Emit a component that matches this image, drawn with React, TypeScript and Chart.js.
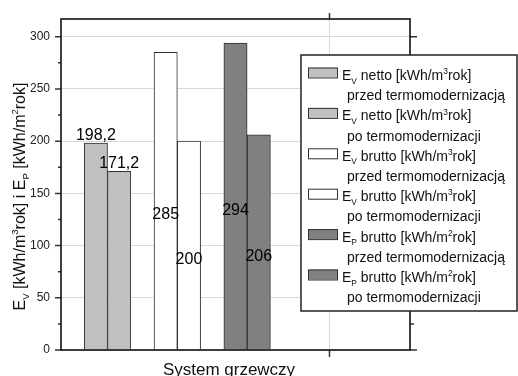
import React, { useEffect, useRef } from "react";
import { Chart, registerables } from "chart.js";

Chart.register(...registerables);

// ---------- data ----------
const categories = ["System grzewczy"];
const seriesNames = [
  "E_{V} netto [kWh/m^{3}rok]",
  "E_{V} netto [kWh/m^{3}rok]",
  "E_{V} brutto [kWh/m^{3}rok]",
  "E_{V} brutto [kWh/m^{3}rok]",
  "E_{P} brutto [kWh/m^{2}rok]",
  "E_{P} brutto [kWh/m^{2}rok]",
];
const seriesPhases = [
  "przed termomodernizacją",
  "po termomodernizacji",
  "przed termomodernizacją",
  "po termomodernizacji",
  "przed termomodernizacją",
  "po termomodernizacji",
];
const seriesValues = [198.2, 171.2, 285, 200, 294, 206];
const yTicks = [0, 50, 100, 150, 200, 250, 300];
const yTitle = "E_{V} [kWh/m^{3}rok] i E_{P} [kWh/m^{2}rok]";

// ---------- styles / layout ----------
const seriesColors = ["#c0c0c0", "#c0c0c0", "#ffffff", "#ffffff", "#808080", "#808080"];
const labelAbove = [true, true, false, false, false, false];
const FONT = "'Liberation Sans', Arial, sans-serif";
const Y_MAX = 317;
const X_SLOTS = 15;
const GRID_X = 11.5;

type Seg = { t: string; k?: "sub" | "sup" };

function parseRich(s: string): Seg[] {
  const out: Seg[] = [];
  const re = /([_^])\{([^}]*)\}/g;
  let last = 0;
  let m: RegExpExecArray | null;
  while ((m = re.exec(s))) {
    if (m.index > last) out.push({ t: s.slice(last, m.index) });
    out.push({ t: m[2], k: m[1] === "_" ? "sub" : "sup" });
    last = re.lastIndex;
  }
  if (last < s.length) out.push({ t: s.slice(last) });
  return out;
}

function segFont(seg: Seg, size: number) {
  return `${seg.k ? size * 0.6 : size}px ${FONT}`;
}

function richWidth(ctx: CanvasRenderingContext2D, segs: Seg[], size: number) {
  let w = 0;
  for (const s of segs) {
    ctx.font = segFont(s, size);
    w += ctx.measureText(s.t).width;
  }
  return w;
}

function drawRich(
  ctx: CanvasRenderingContext2D,
  text: string,
  x: number,
  y: number,
  size: number,
  align: "left" | "center"
) {
  const segs = parseRich(text);
  let cx = align === "center" ? x - richWidth(ctx, segs, size) / 2 : x;
  ctx.textAlign = "left";
  ctx.textBaseline = "alphabetic";
  for (const s of segs) {
    ctx.font = segFont(s, size);
    const dy = s.k === "sub" ? size * 0.25 : s.k === "sup" ? -size * 0.42 : 0;
    ctx.fillText(s.t, cx, y + dy);
    cx += ctx.measureText(s.t).width;
  }
}

const fmt = (v: number) => String(v).replace(".", ",");

const decorPlugin = {
  id: "decor",
  beforeDatasetsDraw(chart: any) {
    const { ctx, chartArea: a, scales } = chart;
    const gx = Math.round(scales.x.getPixelForValue(GRID_X)) + 0.5;
    ctx.save();
    ctx.strokeStyle = "#d9d9d9";
    ctx.lineWidth = 1;
    ctx.beginPath();
    ctx.moveTo(gx, a.top);
    ctx.lineTo(gx, a.bottom);
    ctx.stroke();
    ctx.restore();
  },
  afterDatasetsDraw(chart: any) {
    const { ctx, chartArea: a, scales } = chart;
    const y = scales.y;
    const x = scales.x;
    ctx.save();

    // ticks
    ctx.strokeStyle = "#333";
    ctx.lineWidth = 1.5;
    ctx.beginPath();
    for (let i = 0; i < yTicks.length; i++) {
      const py = y.getPixelForValue(yTicks[i]);
      ctx.moveTo(a.left - 6, py);
      ctx.lineTo(a.left, py);
      ctx.moveTo(a.right, py);
      ctx.lineTo(a.right + 7, py);
      if (i < yTicks.length - 1) {
        const pm = y.getPixelForValue((yTicks[i] + yTicks[i + 1]) / 2);
        ctx.moveTo(a.left - 3, pm);
        ctx.lineTo(a.left, pm);
        ctx.moveTo(a.right, pm);
        ctx.lineTo(a.right + 4, pm);
      }
    }
    const gx = Math.round(x.getPixelForValue(GRID_X)) + 0.5;
    ctx.moveTo(gx, a.top - 6);
    ctx.lineTo(gx, a.top);
    ctx.moveTo(gx, a.bottom);
    ctx.lineTo(gx, a.bottom + 7);
    ctx.stroke();

    // frame
    ctx.strokeStyle = "#111";
    ctx.lineWidth = 1.6;
    ctx.strokeRect(a.left, a.top, a.right - a.left, a.bottom - a.top);

    // value labels
    ctx.fillStyle = "#000";
    ctx.font = `16px ${FONT}`;
    ctx.textAlign = "center";
    chart.data.datasets.forEach((ds: any, i: number) => {
      const el = chart.getDatasetMeta(i).data[0];
      if (!el) return;
      const v = seriesValues[i];
      if (labelAbove[i]) {
        ctx.textBaseline = "alphabetic";
        ctx.fillText(fmt(v), el.x, el.y - 3);
      } else {
        ctx.textBaseline = "middle";
        ctx.fillText(fmt(v), el.x, (el.y + el.base) / 2 + 14);
      }
    });

    // legend
    const lx = 301, ly = 55, lw = 216, lh = 256;
    ctx.fillStyle = "#fff";
    ctx.fillRect(lx, ly, lw, lh);
    ctx.strokeStyle = "#222";
    ctx.lineWidth = 1.5;
    ctx.strokeRect(lx, ly, lw, lh);
    const pitch = 20.2;
    chart.data.datasets.forEach((ds: any, i: number) => {
      const b1 = 80 + i * 2 * pitch;
      ctx.fillStyle = ds.backgroundColor;
      ctx.fillRect(308, b1 - 12.5, 30, 10);
      ctx.strokeStyle = "#333";
      ctx.lineWidth = 1;
      ctx.strokeRect(308.5, b1 - 12, 29, 10);
      ctx.fillStyle = "#111";
      drawRich(ctx, seriesNames[i], 342, b1, 14, "left");
      drawRich(ctx, seriesPhases[i], 347, b1 + pitch, 14, "left");
    });

    // axis titles
    ctx.fillStyle = "#111";
    ctx.font = `17px ${FONT}`;
    ctx.textAlign = "center";
    ctx.textBaseline = "alphabetic";
    ctx.fillText(categories[0], 229, 375);

    ctx.save();
    ctx.translate(24.5, 196.5);
    ctx.rotate(-Math.PI / 2);
    drawRich(ctx, yTitle, 0, 0, 16, "center");
    ctx.restore();

    ctx.restore();
  },
};

export default function App() {
  const ref = useRef<HTMLCanvasElement | null>(null);

  useEffect(() => {
    if (!ref.current) return;
    const datasets = seriesValues.map((v, i) => ({
      label: seriesNames[i] + " " + seriesPhases[i],
      data: [{ x: 1.5 + 3 * Math.floor(i / 2) + (i % 2), y: v }],
      backgroundColor: seriesColors[i],
      borderColor: "#333",
      borderWidth: 1,
      grouped: false,
      barPercentage: 1,
      categoryPercentage: 1,
    }));
    const chart = new Chart(ref.current, {
      type: "bar",
      data: { datasets },
      options: {
        animation: false,
        responsive: false,
        devicePixelRatio: 1,
        layout: { padding: { left: 0, top: 19, right: 108, bottom: 26 } },
        plugins: { legend: { display: false }, tooltip: { enabled: false } },
        scales: {
          x: {
            type: "linear",
            min: 0,
            max: X_SLOTS,
            offset: false,
            display: false,
            afterBuildTicks: (s: any) => {
              s.ticks = [{ value: GRID_X }];
            },
          },
          y: {
            type: "linear",
            min: 0,
            max: Y_MAX,
            afterBuildTicks: (s: any) => {
              s.ticks = yTicks.map((v) => ({ value: v }));
            },
            afterFit: (s: any) => {
              s.width = 61;
            },
            ticks: { font: { family: FONT, size: 12 }, color: "#222", padding: 11 },
            grid: { color: "#d9d9d9", drawTicks: false, lineWidth: 1 },
            border: { display: false },
          },
        },
      },
      plugins: [decorPlugin],
    } as any);
    return () => chart.destroy();
  }, []);

  return (
    <div style={{ position: "absolute", left: 0, top: 0, width: 518, height: 376, background: "#fff" }}>
      <canvas ref={ref} width={518} height={376} style={{ display: "block" }} />
    </div>
  );
}
